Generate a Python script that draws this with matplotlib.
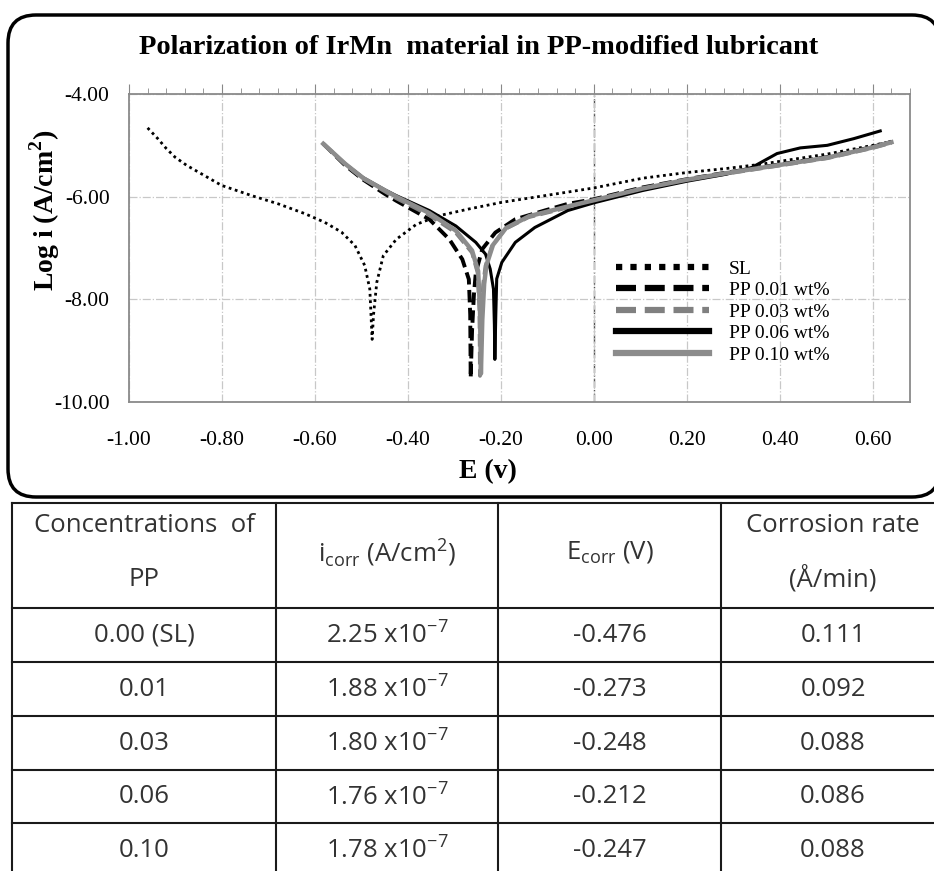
import matplotlib
matplotlib.use('Agg')
import matplotlib.pyplot as plt
from matplotlib.patches import FancyBboxPatch
from matplotlib.ticker import MultipleLocator, FormatStrFormatter

'''DONNEES LUES SUR LA COURBE'''

sl_E = [-0.960, -0.938, -0.920, -0.901, -0.876, -0.851, -0.801, -0.736, -0.679, -0.622, -0.579, -0.543,
        -0.514, -0.493, -0.482, -0.477, -0.474, -0.467, -0.453, -0.425, -0.382, -0.333,
        -0.269, -0.198, -0.127, -0.056, 0.0, 0.105, 0.2, 0.286, 0.358, 0.43, 0.502, 0.6, 0.643]
sl_log = [-4.66, -4.87, -5.06, -5.23, -5.39, -5.52, -5.78, -5.98, -6.14, -6.33, -6.50, -6.69,
          -6.95, -7.34, -7.80, -8.78, -8.30, -7.67, -7.15, -6.83, -6.54, -6.37,
          -6.24, -6.11, -6.01, -5.91, -5.83, -5.64, -5.53, -5.45, -5.37, -5.27, -5.17, -5.0, -4.92]

pp01_E = [-0.582, -0.535, -0.496, -0.449, -0.425, -0.354, -0.311, -0.283, -0.269, -0.266,
          -0.265, -0.262, -0.258, -0.254, -0.240, -0.212, -0.169, -0.106, -0.056, 0.0,
          0.105, 0.2, 0.286, 0.358, 0.43, 0.502, 0.6, 0.64]
pp01_log = [-4.97, -5.39, -5.67, -5.95, -6.08, -6.44, -6.83, -7.22, -7.61, -8.30,
            -9.53, -8.60, -7.90, -7.48, -7.02, -6.70, -6.44, -6.27, -6.14, -6.05,
            -5.82, -5.66, -5.53, -5.43, -5.33, -5.23, -5.03, -4.93]

pp03_E = [-0.582, -0.535, -0.496, -0.449, -0.425, -0.354, -0.297, -0.262, -0.250, -0.246,
          -0.245, -0.242, -0.238, -0.233, -0.219, -0.191, -0.141, -0.056, 0.0, 0.105,
          0.2, 0.286, 0.358, 0.43, 0.502, 0.6, 0.64]
pp03_log = [-4.97, -5.37, -5.65, -5.90, -6.03, -6.36, -6.70, -7.09, -7.48, -8.20,
            -9.49, -8.40, -7.70, -7.35, -6.96, -6.63, -6.40, -6.21, -6.08, -5.85,
            -5.68, -5.55, -5.45, -5.35, -5.25, -5.05, -4.95]

pp06_E = [-0.582, -0.535, -0.496, -0.449, -0.425, -0.354, -0.297, -0.254, -0.233, -0.223,
          -0.216, -0.214, -0.213, -0.211, -0.209, -0.198, -0.169, -0.127, -0.056, 0.0,
          0.105, 0.2, 0.286, 0.34, 0.394, 0.444, 0.502, 0.559, 0.616]
pp06_log = [-4.97, -5.36, -5.63, -5.87, -5.98, -6.27, -6.57, -6.89, -7.12, -7.41,
            -7.80, -8.50, -9.17, -8.30, -7.60, -7.28, -6.89, -6.60, -6.27, -6.12,
            -5.88, -5.70, -5.56, -5.43, -5.16, -5.05, -5.00, -4.87, -4.72]

pp10_E = [-0.582, -0.535, -0.496, -0.449, -0.425, -0.354, -0.297, -0.262, -0.249, -0.245,
          -0.243, -0.240, -0.236, -0.231, -0.217, -0.189, -0.139, -0.056, 0.0, 0.105,
          0.2, 0.286, 0.358, 0.43, 0.502, 0.6, 0.64]
pp10_log = [-4.97, -5.36, -5.64, -5.88, -6.00, -6.32, -6.66, -7.05, -7.45, -8.20,
            -9.45, -8.40, -7.70, -7.33, -6.94, -6.61, -6.38, -6.19, -6.07, -5.84,
            -5.67, -5.54, -5.44, -5.34, -5.24, -5.04, -4.94]

'''TABLEAU'''

conc = ['0.00 (SL)', '0.01', '0.03', '0.06', '0.10']
icorr = ['2.25', '1.88', '1.80', '1.76', '1.78']
ecorr = ['-0.476', '-0.273', '-0.248', '-0.212', '-0.247']
rate = ['0.111', '0.092', '0.088', '0.086', '0.088']

W, H = 934, 871
fig = plt.figure(figsize=(W/100., H/100.), dpi=100)

# fond : cadre arrondi + tableau, en pixels
bg = fig.add_axes([0, 0, 1, 1], zorder=0)
bg.set_xlim(0, W)
bg.set_ylim(H, 0)
bg.axis('off')
bg.add_patch(FancyBboxPatch((8, 15), 932, 482, boxstyle='round,pad=0,rounding_size=28',
                            fc='white', ec='black', lw=2.5))

xs = [12, 276, 498, 721, 945]
ys = [503, 608, 662, 716, 770, 823, 877]
for x in xs:
  bg.plot([x, x], [ys[0], ys[-1]], color='#1a1a1a', lw=1.5)
for y in ys:
  bg.plot([xs[0], xs[-1]], [y, y], color='#1a1a1a', lw=1.5)

tfont = dict(family='Open Sans', fontsize=18.5, color='#333333', ha='center', va='center')
cx = [(xs[k] + xs[k+1]) / 2. for k in range(4)]
cx[3] = 833
bg.text(cx[0], 525, 'Concentrations  of', **tfont)
bg.text(cx[0], 579, 'PP', **tfont)
bg.text(cx[1], 552, r'i$_{\mathregular{corr}}$ (A/cm$^{\mathregular{2}}$)', **tfont)
bg.text(cx[2], 552, r'E$_{\mathregular{corr}}$ (V)', **tfont)
bg.text(cx[3], 525, 'Corrosion rate', **tfont)
bg.text(cx[3], 579, '(Å/min)', **tfont)
for k in range(5):
  yc = (ys[k+1] + ys[k+2]) / 2.
  bg.text(cx[0], yc, conc[k], **tfont)
  bg.text(cx[1], yc, icorr[k] + r' x10$^{\mathregular{-7}}$', **tfont)
  bg.text(cx[2], yc, ecorr[k], **tfont)
  bg.text(cx[3], yc, rate[k], **tfont)

'''COURBES'''

ax = fig.add_axes([129./W, 1 - 402./H, (910. - 129.)/W, (402. - 94.)/H], zorder=2)
ax.plot(sl_E, sl_log, color='black', lw=2, ls=(0, (1, 1.3)), label='SL')
ax.plot(pp01_E, pp01_log, color='black', lw=2.8, ls=(0, (3.2, 1.4)), label='PP 0.01 wt%')
ax.plot(pp03_E, pp03_log, color='#808080', lw=2.8, ls=(0, (3.2, 1.4)), label='PP 0.03 wt%')
ax.plot(pp06_E, pp06_log, color='black', lw=2.2, label='PP 0.06 wt%')
ax.plot(pp10_E, pp10_log, color='#8c8c8c', lw=3.2, label='PP 0.10 wt%')

ax.set_xlim(-1.0, 0.68)
ax.set_ylim(-10, -4)
ax.xaxis.set_major_locator(MultipleLocator(0.2))
ax.xaxis.set_minor_locator(MultipleLocator(0.04))
ax.yaxis.set_major_locator(MultipleLocator(2))
ax.xaxis.set_major_formatter(FormatStrFormatter('%.2f'))
ax.yaxis.set_major_formatter(FormatStrFormatter('%.2f'))
ax.grid(True, which='major', color='#c8c8c8', ls='-.', lw=0.9)
ax.axvline(0, color='#555555', ls='-.', lw=1.0, zorder=1)
ax.tick_params(axis='x', which='both', bottom=False, top=True, labelbottom=True,
               labeltop=False, direction='out', color='#888888', pad=14)
ax.tick_params(axis='x', which='major', length=7)
ax.tick_params(axis='x', which='minor', length=4)
ax.tick_params(axis='y', length=0, pad=14)
for s in ax.spines.values():
  s.set_color('#8a8a8a')
  s.set_linewidth(1.3)
for lab in ax.get_xticklabels() + ax.get_yticklabels():
  lab.set_family('Liberation Serif')
  lab.set_fontsize(15.5)

leg = ax.legend(loc='upper left', bbox_to_anchor=(616./W, 1 - 260./H), bbox_transform=fig.transFigure,
                frameon=False, borderpad=0, borderaxespad=0, handlelength=4.8, handletextpad=1.0,
                labelspacing=0.2, prop={'family': 'Liberation Serif', 'size': 14})
for l in leg.get_lines():
  l.set_linewidth(4.5)

fig.text(479./W, 1 - 47./H, 'Polarization of IrMn  material in PP-modified lubricant',
         ha='center', va='center', family='Liberation Serif', weight='bold', fontsize=20.5)
fig.text(45./W, 1 - 210./H, r'Log i (A/cm$^{\mathregular{2}}$)', rotation=90, ha='center', va='center',
         family='Liberation Serif', weight='bold', fontsize=20)
fig.text(488./W, 1 - 472./H, 'E (v)', ha='center', va='center',
         family='Liberation Serif', weight='bold', fontsize=20)

fig.savefig('out.png', dpi=100)
